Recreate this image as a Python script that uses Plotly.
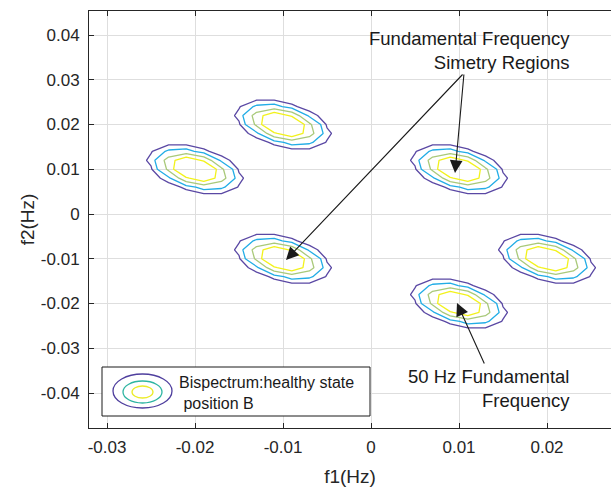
import numpy as np
import plotly.graph_objects as go

# ---------------- data ----------------
# bispectrum peak centres (Hz)
peak_f1 = [-0.02, -0.01, 0.01, -0.01, 0.02, 0.01]
peak_f2 = [0.01, 0.02, 0.01, -0.01, -0.01, -0.02]
peak_amp = [1.0, 1.0, 1.0, 1.0, 1.0, 1.0]
# peak shape (outer-contour half extents and f1/f2 correlation)
peak_sx = 0.0053
peak_sy = 0.0053
peak_rho = -0.42
# contour levels (normalized bispectrum magnitude) and their colours
levels = [0.10, 0.20, 0.37, 0.55]
level_colors = ["#5a48a4", "#22ade6", "#a9c97a", "#f2f21c"]
# frequency grid of the estimate
grid_step = 0.002
grid_f1 = np.arange(-0.049, 0.049 + grid_step / 2, grid_step)
grid_f2 = np.arange(-0.05, 0.05 + grid_step / 2, grid_step)

x_tickvals = [-0.03, -0.02, -0.01, 0, 0.01, 0.02]
x_ticktext = ["-0.03", "-0.02", "-0.01", "0", "0.01", "0.02"]
y_tickvals = [-0.04, -0.03, -0.02, -0.01, 0, 0.01, 0.02, 0.03, 0.04]
y_ticktext = ["-0.04", "-0.03", "-0.02", "-0.01", "0", "0.01", "0.02", "0.03", "0.04"]

arrow_tip_f1 = [0.00955, -0.00966, 0.00977]
arrow_tip_f2 = [0.00916, -0.01028, -0.01989]

legend_label = "Bispectrum:healthy state<br> position B"
note_top = "Fundamental Frequency<br>Simetry Regions"
note_bottom = "50 Hz Fundamental<br>Frequency"

# ---------------- field ----------------
F1, F2 = np.meshgrid(grid_f1, grid_f2)
M = np.array([[peak_sx ** 2, peak_rho * peak_sx * peak_sy],
              [peak_rho * peak_sx * peak_sy, peak_sy ** 2]])
Mi = np.linalg.inv(M)
Z = np.zeros_like(F1)
for cx, cy, amp in zip(peak_f1, peak_f2, peak_amp):
    dx = F1 - cx
    dy = F2 - cy
    q = Mi[0, 0] * dx * dx + 2 * Mi[0, 1] * dx * dy + Mi[1, 1] * dy * dy
    Z = np.maximum(Z, amp * np.exp(-2.3026 * q))

fig = go.Figure()
for lvl, col in zip(levels, level_colors):
    fig.add_trace(go.Contour(
        x=grid_f1, y=grid_f2, z=Z,
        autocontour=False,
        contours=dict(start=lvl, end=lvl + 1e-6, size=1, coloring="none"),
        line=dict(color=col, width=1.3, smoothing=0),
        showscale=False, hoverinfo="skip", showlegend=False,
    ))

# ---------------- layout ----------------
W, H = 611, 487
L, R, T, B = 89, 0, 11, 59
x0_pix, x1_pix = L, W - R
y0_pix, y1_pix = T, H - B


def pxp(xp):
    return (xp - x0_pix) / (x1_pix - x0_pix)


def pyp(yp):
    return (y1_pix - yp) / (y1_pix - y0_pix)


FONT = "Liberation Sans, Arial, sans-serif"
TXT = "#262626"

fig.update_layout(
    width=W, height=H,
    margin=dict(l=L, r=R, t=T, b=B, pad=0),
    paper_bgcolor="white", plot_bgcolor="white",
    font=dict(family=FONT, size=17, color=TXT),
    showlegend=False,
)
fig.update_xaxes(
    range=[-0.032045, 0.027273],
    tickvals=x_tickvals, ticktext=x_ticktext,
    showgrid=True, gridcolor="#dedede", gridwidth=1,
    zeroline=False,
    showline=True, linecolor=TXT, linewidth=1, mirror="ticks",
    ticks="inside", ticklen=5, tickcolor=TXT, tickwidth=1,
    tickfont=dict(size=17, color=TXT),
    ticklabelstandoff=4,
    title=dict(text="f1(Hz)", font=dict(size=19, color=TXT), standoff=13),
)
fig.update_yaxes(
    range=[-0.047821, 0.045363],
    tickvals=y_tickvals, ticktext=y_ticktext,
    showgrid=True, gridcolor="#dedede", gridwidth=1,
    zeroline=False,
    showline=True, linecolor=TXT, linewidth=1, mirror=False,
    ticks="inside", ticklen=5, tickcolor=TXT, tickwidth=1,
    tickfont=dict(size=17, color=TXT),
    ticklabelstandoff=5,
    title=dict(text="f2(Hz)", font=dict(size=19, color=TXT), standoff=1),
)

shapes = []
# legend box
shapes.append(dict(type="rect", xref="paper", yref="paper",
                   x0=pxp(102), x1=pxp(370), y0=pyp(416), y1=pyp(367),
                   line=dict(color="#1a1a1a", width=1), fillcolor="white", layer="above"))
# legend icon (three concentric contour rings)
icon_rings = [((113, 172, 374, 408), "#4f3f9e"),
              ((123, 162, 381, 403), "#2fb5a2"),
              ((132, 153, 386, 398), "#ecec2a")]
for (a, b, c, d), col in icon_rings:
    shapes.append(dict(type="circle", xref="paper", yref="paper",
                       x0=pxp(a), x1=pxp(b), y0=pyp(d), y1=pyp(c),
                       line=dict(color=col, width=1.3), layer="above"))
fig.update_layout(shapes=shapes)

annotations = []
annotations.append(dict(xref="paper", yref="paper", x=pxp(177), y=pyp(393),
                        xanchor="left", yanchor="middle", align="left",
                        text=legend_label, showarrow=False,
                        font=dict(size=16, color="#1a1a1a")))
annotations.append(dict(xref="paper", yref="paper", x=pxp(572), y=pyp(50.5),
                        xanchor="right", yanchor="middle", align="right",
                        text=note_top, showarrow=False,
                        font=dict(size=18.5, color="#1a1a1a")))
annotations.append(dict(xref="paper", yref="paper", x=pxp(572), y=pyp(388),
                        xanchor="right", yanchor="middle", align="right",
                        text=note_bottom, showarrow=False,
                        font=dict(size=18.5, color="#1a1a1a")))
arrow_tails = [(9, -100), (178, -187), (28, 62)]
for fx, fy, (axp, ayp) in zip(arrow_tip_f1, arrow_tip_f2, arrow_tails):
    annotations.append(dict(x=fx, y=fy, xref="x", yref="y", text="",
                            showarrow=True, ax=axp, ay=ayp,
                            arrowhead=2, arrowsize=2.3, arrowwidth=1.1,
                            arrowcolor="#1a1a1a", standoff=0, startstandoff=0))
fig.update_layout(annotations=annotations)

fig.write_html("out.html")
